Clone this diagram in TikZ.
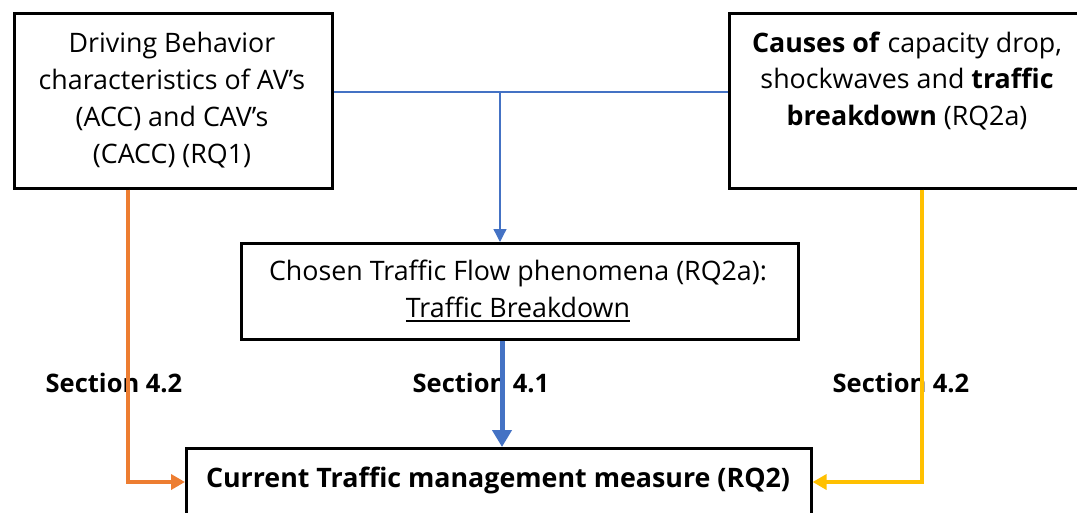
\documentclass[tikz,border=0pt]{standalone}
\usepackage{fontspec}
\setmainfont{Open Sans}
\usetikzlibrary{arrows.meta}
\definecolor{cblue}{HTML}{4472C4}
\definecolor{corange}{HTML}{ED7D31}
\definecolor{cyellow}{HTML}{FFC000}
\newcommand\myul[1]{\setbox0\hbox{#1}\rlap{\rule[-4.5pt]{\wd0}{1.6pt}}\box0}
\tikzset{
  box/.style={draw=black, line width=2.6pt, fill=white, inner sep=0pt},
  txt/.style={align=center, font=\fontsize{26.8}{36.8}\selectfont, inner sep=0pt},
  sec/.style={font=\fontsize{25.5}{30}\selectfont\bfseries, inner sep=0pt},
  thinblue/.style={draw=cblue, line width=1.3pt, -{Triangle[length=13pt,width=13pt]}},
  thickblue/.style={draw=cblue, line width=5pt, -{Triangle[length=17pt,width=19pt]}},
  side/.style={line width=3.8pt, -{Triangle[length=14pt,width=15pt]}},
}
\begin{document}
\begin{tikzpicture}[x=1pt,y=-1pt]
\useasboundingbox (0,0) rectangle (1077,512);
\clip (0,0) rectangle (1077,512);
% boxes
\node[box, anchor=north west, minimum width=318pt, minimum height=175pt] (A) at (13,12) {};
\node[box, anchor=north west, minimum width=360pt, minimum height=175pt] (B) at (728,12) {};
\node[box, anchor=north west, minimum width=557pt, minimum height=96pt] (C) at (240,242) {};
\node[box, anchor=north west, minimum width=625pt, minimum height=90pt] (D) at (185,447) {};
% texts
\node[txt] (Atxt) at (172,100) {Driving Behavior\\characteristics of AV’s\\(ACC) and CAV’s\\(CACC) (RQ1)};
\node[txt] (Btxt) at (907,81) {\textbf{Causes of} capacity drop,\\shockwaves and \textbf{traffic}\\\textbf{breakdown} (RQ2a)};
\node[txt] (Ctxt) at (518,291) {Chosen Traffic Flow phenomena (RQ2a):\\\myul{Traffic Breakdown}};
\node[txt, font=\fontsize{26.8}{30}\selectfont\bfseries] (Dtxt) at (498,480) {Current Traffic management measure (RQ2)};
% section labels
\node[sec] (s1) at (114,383) {Section 4.2};
\node[sec] (s2) at (481,383) {Section 4.1};
\node[sec] (s3) at (901,383) {Section 4.2};
% connectors
\coordinate (j) at (500,92);
\draw[cblue, line width=1.3pt] (A.east |- j) -- (B.west |- j);
\draw[thinblue] (j) -- (j |- C.north);
\coordinate (k) at (502,338);
\draw[thickblue] (C.south -| k) -- (D.north -| k);
\coordinate (oc) at (128,482);
\draw[side, draw=corange] (A.south -| oc) -- (oc) -- (D.west |- oc);
\coordinate (yc) at (922,482);
\draw[side, draw=cyellow] (B.south -| yc) -- (yc) -- (D.east |- yc);
\end{tikzpicture}
\end{document}
